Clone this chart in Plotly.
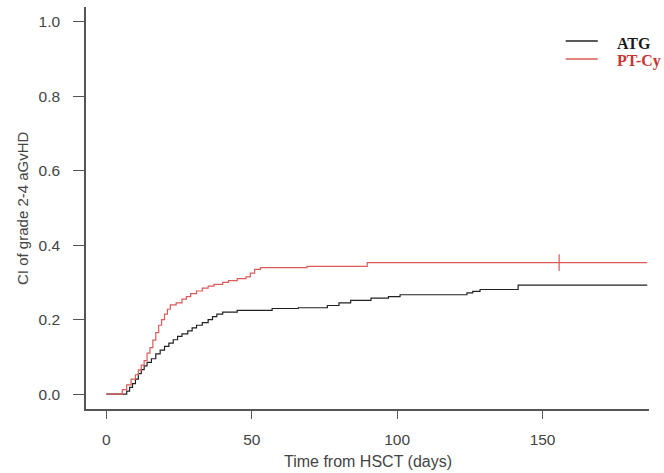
import plotly.graph_objects as go

# ---- data ----
atg_days = [0, 7, 8, 9, 10, 11, 12, 13, 14, 15.5, 17, 18.5, 20, 21.5, 23, 24.5, 26, 28, 29.5,
            31, 33, 35, 36.5, 38, 40, 45, 57, 66, 76, 80, 84, 91, 97, 101, 124, 126, 128.5,
            141.6, 186]
atg_ci = [0, 0.008, 0.018, 0.028, 0.04, 0.055, 0.066, 0.076, 0.085, 0.095, 0.108, 0.118, 0.128,
          0.137, 0.146, 0.155, 0.162, 0.17, 0.178, 0.185, 0.192, 0.2, 0.208, 0.215, 0.22, 0.225,
          0.23, 0.232, 0.238, 0.245, 0.252, 0.258, 0.262, 0.267, 0.272, 0.276, 0.281, 0.293, 0.293]

ptcy_days = [0, 5.5, 7, 8.5, 10, 11, 12, 13, 14, 15, 16, 17, 18, 19, 20, 21, 22, 24, 26, 27.5,
             29, 31, 33, 35, 37, 40, 42, 45, 48, 49.5, 51, 53, 69, 89.7, 186]
ptcy_ci = [0, 0.012, 0.025, 0.04, 0.052, 0.065, 0.078, 0.09, 0.11, 0.125, 0.145, 0.165, 0.185,
           0.2, 0.215, 0.228, 0.24, 0.245, 0.255, 0.262, 0.27, 0.277, 0.285, 0.29, 0.295, 0.3,
           0.305, 0.31, 0.315, 0.325, 0.335, 0.34, 0.343, 0.353, 0.353]

ptcy_censor_days = [155.7]
ptcy_censor_ci = [0.353]

x_ticks = [0, 50, 100, 150]
y_ticks = [0.0, 0.2, 0.4, 0.6, 0.8, 1.0]
y_tick_labels = ["0.0", "0.2", "0.4", "0.6", "0.8", "1.0"]

series_names = ["ATG", "PT-Cy"]
BLACK = "#222222"
RED = "#dc5a5a"
AXIS = "#555555"
TXT = "#444444"
FONT = "Liberation Sans, Arial, sans-serif"

fig = go.Figure()
fig.add_trace(go.Scatter(x=atg_days, y=atg_ci, mode="lines", line=dict(shape="hv", color=BLACK, width=1.2),
                         name=series_names[0], showlegend=False))
fig.add_trace(go.Scatter(x=ptcy_days, y=ptcy_ci, mode="lines", line=dict(shape="hv", color=RED, width=1.2),
                         name=series_names[1], showlegend=False))
fig.add_trace(go.Scatter(x=ptcy_censor_days, y=ptcy_censor_ci, mode="markers",
                         marker=dict(symbol="line-ns", size=12, line=dict(color=RED, width=1.2)),
                         showlegend=False))

# legend drawn as R-style: short line + bold serif text
leg_line_y = [0.9154, 0.8706]
leg_text_y = [0.9104, 0.8657]
leg_line_cols = [BLACK, RED]
leg_text_cols = ["#1a1a1a", "#c93535"]
for name, ly, ty, lc, tc in zip(series_names, leg_line_y, leg_text_y, leg_line_cols, leg_text_cols):
    fig.add_shape(type="line", xref="paper", yref="paper", x0=0.852, x1=0.909, y0=ly, y1=ly,
                  line=dict(color=lc, width=1.5))
    fig.add_annotation(xref="paper", yref="paper", x=0.94, y=ty, text="<b>%s</b>" % name,
                       showarrow=False, xanchor="left", yanchor="middle",
                       font=dict(family="Liberation Serif, Times New Roman, serif", size=16, color=tc))

fig.add_annotation(xref="paper", yref="paper", x=0.5, y=-0.131, text="Time from HSCT (days)",
                   showarrow=False, xanchor="center", yanchor="middle",
                   font=dict(family=FONT, size=16, color=TXT))
fig.add_annotation(xref="paper", yref="paper", x=-0.1137, y=0.5, text="CI of grade 2-4 aGvHD",
                   showarrow=False, textangle=-90, xanchor="center", yanchor="middle",
                   font=dict(family=FONT, size=15, color=TXT))

fig.update_layout(
    width=664, height=473,
    margin=dict(l=86, r=15, t=7, b=64),
    paper_bgcolor="white", plot_bgcolor="white",
    font=dict(family=FONT, color=TXT),
    xaxis=dict(range=[-7, 186.6], tickvals=x_ticks, ticks="outside", ticklen=8, tickwidth=1.3,
               tickcolor=AXIS, showline=True, linecolor=AXIS, linewidth=1.5, showgrid=False,
               zeroline=False, tickfont=dict(size=15.5, color=TXT), ticklabelstandoff=8),
    yaxis=dict(range=[-0.04, 1.04], tickvals=y_ticks, ticktext=y_tick_labels, ticks="outside",
               ticklen=11, tickwidth=1.3, tickcolor=AXIS, showline=True, linecolor=AXIS,
               linewidth=1.5, showgrid=False, zeroline=False, tickfont=dict(size=15.5, color=TXT),
               ticklabelstandoff=10),
)

fig.write_html("out.html", config={"displayModeBar": False},
               post_script="document.body.style.margin='0';document.body.style.padding='0';")
